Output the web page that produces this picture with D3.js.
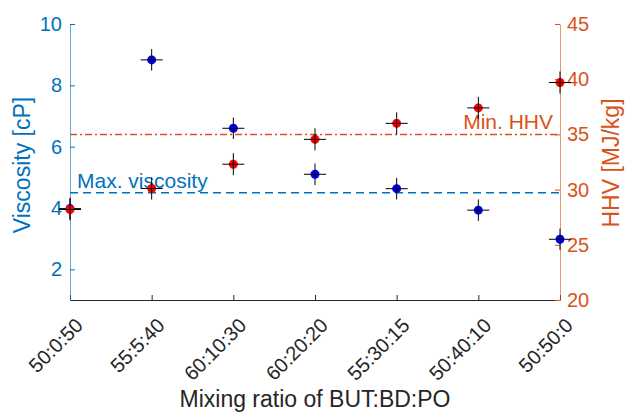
<!DOCTYPE html>
<html lang="en">
<head>
    <meta charset="UTF-8">
    <title>Viscosity and HHV</title>
    <script src="https://cdn.jsdelivr.net/npm/d3@7"></script>
    <style>
        * { margin: 0; }
        body { background: #fff; }
        svg { font-family: "Liberation Sans", Arial, sans-serif; }
    </style>
</head>
<body>
    <div id="chart"></div>
    <script>
        // data
        var ratios = ["50:0:50", "55:5:40", "60:10:30", "60:20:20", "55:30:15", "50:40:10", "50:50:0"];
        var viscosity = [3.98, 8.83, 6.60, 5.10, 4.63, 3.93, 2.98];
        var viscosityErr = [0.35, 0.35, 0.35, 0.35, 0.35, 0.35, 0.35];
        var hhv = [28.2, 30.1, 32.3, 34.55, 36.0, 37.4, 39.7];
        var hhvErr = [1, 1, 1, 1, 1, 1, 1];
        var xErr = 0.135;
        var maxViscosity = 4.5;
        var minHHV = 35;
        var leftTicks = [2, 4, 6, 8, 10];
        var rightTicks = [20, 25, 30, 35, 40, 45];

        var w = 625, h = 415;
        var margin = { left: 70, right: 65, top: 24, bottom: 115 };
        var blue = "#0072BD", orange = "#D95319", dark = "#262626";

        var svg = d3.select("#chart").append("svg")
            .attr("width", w)
            .attr("height", h);

        var x = d3.scaleLinear().domain([0, ratios.length - 1]).range([margin.left, w - margin.right]);
        var yL = d3.scaleLinear().domain([1, 10]).range([h - margin.bottom, margin.top]);
        var yR = d3.scaleLinear().domain([20, 45]).range([h - margin.bottom, margin.top]);

        // bottom axis, ticks pointing in
        var xAxis = svg.append("g")
            .attr("transform", "translate(0," + (h - margin.bottom) + ")")
            .call(d3.axisBottom(x).tickValues(d3.range(ratios.length)).tickSizeInner(-5).tickSizeOuter(0).tickFormat(function (d) { return ratios[d]; }));
        xAxis.select(".domain").attr("stroke", dark);
        xAxis.selectAll(".tick line").attr("stroke", dark);
        xAxis.selectAll(".tick text")
            .attr("fill", dark)
            .style("font-size", "20px")
            .attr("text-anchor", "end")
            .attr("transform", "translate(1,14) rotate(-45)")
            .attr("dy", "0.9em")
            .attr("y", 0).attr("x", 0);

        // left axis
        var left = svg.append("g")
            .attr("transform", "translate(" + margin.left + ",0)")
            .call(d3.axisLeft(yL).tickValues(leftTicks).tickSizeInner(-5).tickSizeOuter(0).tickPadding(8));
        left.select(".domain").attr("stroke", blue).attr("stroke-opacity", 0.6);
        left.selectAll(".tick line").attr("stroke", blue);
        left.selectAll(".tick text").attr("fill", blue).style("font-size", "20px");

        // right axis
        var right = svg.append("g")
            .attr("transform", "translate(" + (w - margin.right) + ",0)")
            .call(d3.axisRight(yR).tickValues(rightTicks).tickSizeInner(-5).tickSizeOuter(0).tickPadding(7));
        right.select(".domain").attr("stroke", orange).attr("stroke-opacity", 0.6);
        right.selectAll(".tick line").attr("stroke", orange);
        right.selectAll(".tick text").attr("fill", orange).style("font-size", "20px");

        // axis titles
        svg.append("text")
            .attr("transform", "translate(30,165) rotate(-90)")
            .attr("text-anchor", "middle")
            .attr("fill", blue)
            .style("font-size", "23px")
            .text("Viscosity [cP]");
        svg.append("text")
            .attr("transform", "translate(619,163) rotate(-90)")
            .attr("text-anchor", "middle")
            .attr("fill", orange)
            .style("font-size", "23px")
            .text("HHV [MJ/kg]");
        svg.append("text")
            .attr("x", x(3))
            .attr("y", 407)
            .attr("text-anchor", "middle")
            .attr("fill", dark)
            .style("font-size", "23px")
            .text("Mixing ratio of BUT:BD:PO");

        // limit lines
        svg.append("line")
            .attr("x1", x(0)).attr("x2", x(ratios.length - 1))
            .attr("y1", yL(maxViscosity)).attr("y2", yL(maxViscosity))
            .attr("stroke", blue).attr("stroke-width", 1.5)
            .attr("stroke-dasharray", "8,5");
        svg.append("text")
            .attr("x", x(0) + 7).attr("y", yL(maxViscosity) - 5)
            .attr("fill", blue)
            .style("font-size", "21px")
            .text("Max. viscosity");

        svg.append("line")
            .attr("x1", x(0)).attr("x2", x(ratios.length - 1))
            .attr("y1", yR(minHHV)).attr("y2", yR(minHHV))
            .attr("stroke", orange).attr("stroke-width", 1.5)
            .attr("stroke-dasharray", "7,3,2,3");
        svg.append("text")
            .attr("x", x(ratios.length - 1) - 7).attr("y", yR(minHHV) - 5)
            .attr("text-anchor", "end")
            .attr("fill", orange)
            .style("font-size", "21px")
            .text("Min. HHV");

        // points with crosses
        function drawSeries(values, errs, y, fill) {
            var g = svg.append("g");
            g.selectAll("circle")
                .data(values)
                .enter()
                .append("circle")
                .attr("cx", function (d, i) { return x(i); })
                .attr("cy", function (d) { return y(d); })
                .attr("r", 4.5)
                .attr("fill", fill);
            g.selectAll("line.v")
                .data(values)
                .enter()
                .append("line")
                .attr("class", "v")
                .attr("x1", function (d, i) { return x(i); })
                .attr("x2", function (d, i) { return x(i); })
                .attr("y1", function (d, i) { return y(d - errs[i]); })
                .attr("y2", function (d, i) { return y(d + errs[i]); })
                .attr("stroke", "#000");
            g.selectAll("line.h")
                .data(values)
                .enter()
                .append("line")
                .attr("class", "h")
                .attr("x1", function (d, i) { return x(i - xErr); })
                .attr("x2", function (d, i) { return x(i + xErr); })
                .attr("y1", function (d) { return y(d); })
                .attr("y2", function (d) { return y(d); })
                .attr("stroke", "#000");
        }

        drawSeries(viscosity, viscosityErr, yL, "#0000ff");
        drawSeries(hhv, hhvErr, yR, "#ff0000");
    </script>
</body>
</html>
